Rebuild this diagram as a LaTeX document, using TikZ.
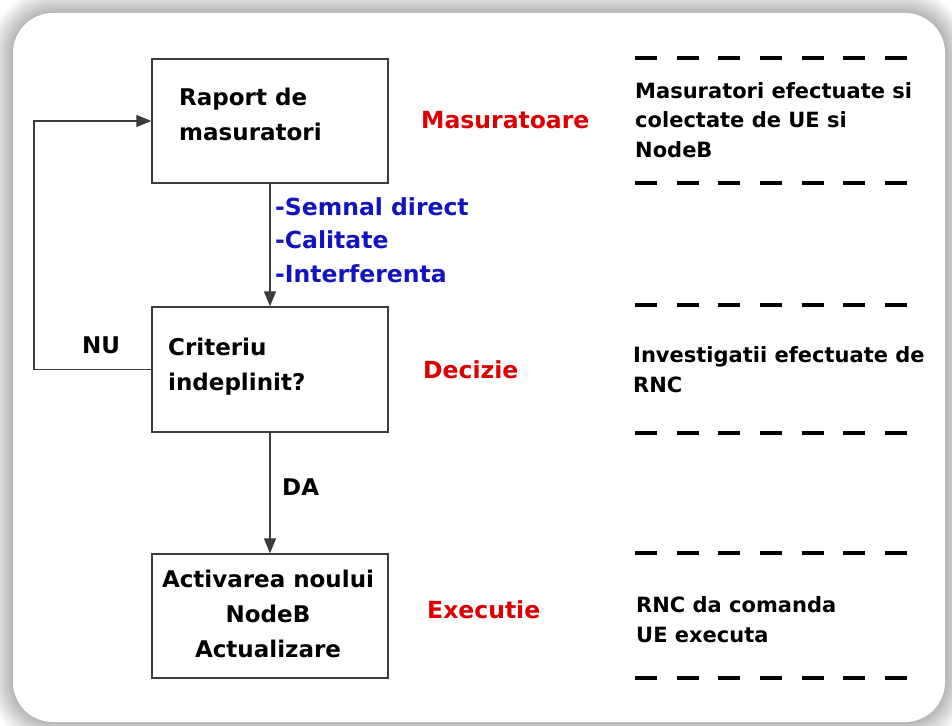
\documentclass[tikz,border=0pt]{standalone}
\usepackage{fontspec}
\setmainfont{DejaVu Sans}
\usetikzlibrary{arrows.meta}
\definecolor{redlab}{RGB}{222,0,0}
\definecolor{bluelab}{RGB}{20,20,190}
\definecolor{edgec}{RGB}{60,60,60}
\begin{document}
\begin{tikzpicture}[x=1pt,y=-1pt,
  box/.style={draw=edgec,line width=1.3pt,minimum width=236pt,minimum height=124pt,inner sep=0pt},
  arr/.style={draw=edgec,line width=1.2pt,-{Triangle[length=15pt,width=12pt]}},
  boxtxt/.style={font=\fontsize{23}{35}\selectfont\bfseries,inner sep=0pt,anchor=base west,align=left},
  redtxt/.style={font=\fontsize{23.5}{30}\selectfont\bfseries,text=redlab,inner sep=0pt,anchor=base west},
  bluetxt/.style={font=\fontsize{23.5}{33.5}\selectfont\bfseries,text=bluelab,inner sep=0pt,anchor=base west,align=left},
  sidetxt/.style={font=\fontsize{21}{29.5}\selectfont\bfseries,inner sep=0pt,anchor=base west,align=left},
  dashline/.style={line width=4pt,dash pattern=on 22pt off 19.67pt}
]
\useasboundingbox (0,0) rectangle (952,725);
\fill[white] (0,0) rectangle (952,725);
% shadow and card
\foreach \k in {1,...,24}{
  \fill[black,opacity=0.011,rounded corners=40pt+\k pt] (13-\k,13-\k) rectangle (945+\k,722+\k);
}
\fill[white,rounded corners=40pt] (13,13) rectangle (945,722);

% boxes
\node[box] (b1) at (270,121) {};
\node[box,minimum height=125pt] (b2) at (270,369.5) {};
\node[box] (b3) at (270,616) {};

% box texts (base anchor = baseline of last line)
\node[boxtxt] (t1) at (179,140) {Raport de\\masuratori};
\node[boxtxt] (t2) at (168,390) {Criteriu\\indeplinit?};
\node[boxtxt,anchor=base,align=center] (t3) at (268,657) {Activarea noului\\NodeB\\Actualizare};

% connectors
\draw[arr] (b1.south) -- (b2.north);
\draw[arr] (b2.south) -- (b3.north);
\coordinate (loopx) at (34,0);
\draw[arr] (b2.west) -- (b2.west -| loopx) |- (b1.west);

% connector labels
\node[bluetxt] (sig) at (275,282) {-Semnal direct\\-Calitate\\-Interferenta};
\node[boxtxt] (nu) at (82,353) {NU};
\node[boxtxt] (da) at (282,495) {DA};

% phase labels
\node[redtxt] (m) at (421,128) {Masuratoare};
\node[redtxt] (d) at (423,378) {Decizie};
\node[redtxt] (e) at (427,618) {Executie};

% side texts
\node[sidetxt] (r1) at (635,157) {Masuratori efectuate si\\colectate de UE si\\NodeB};
\node[sidetxt] (r2) at (633,392) {Investigatii efectuate de\\RNC};
\node[sidetxt] (r3) at (636,642) {RNC da comanda\\UE executa};

% dashed separators
\foreach \y in {58,183,305,433,553,678}{
  \draw[dashline] (635,\y) -- (907,\y);
}
\end{tikzpicture}
\end{document}
